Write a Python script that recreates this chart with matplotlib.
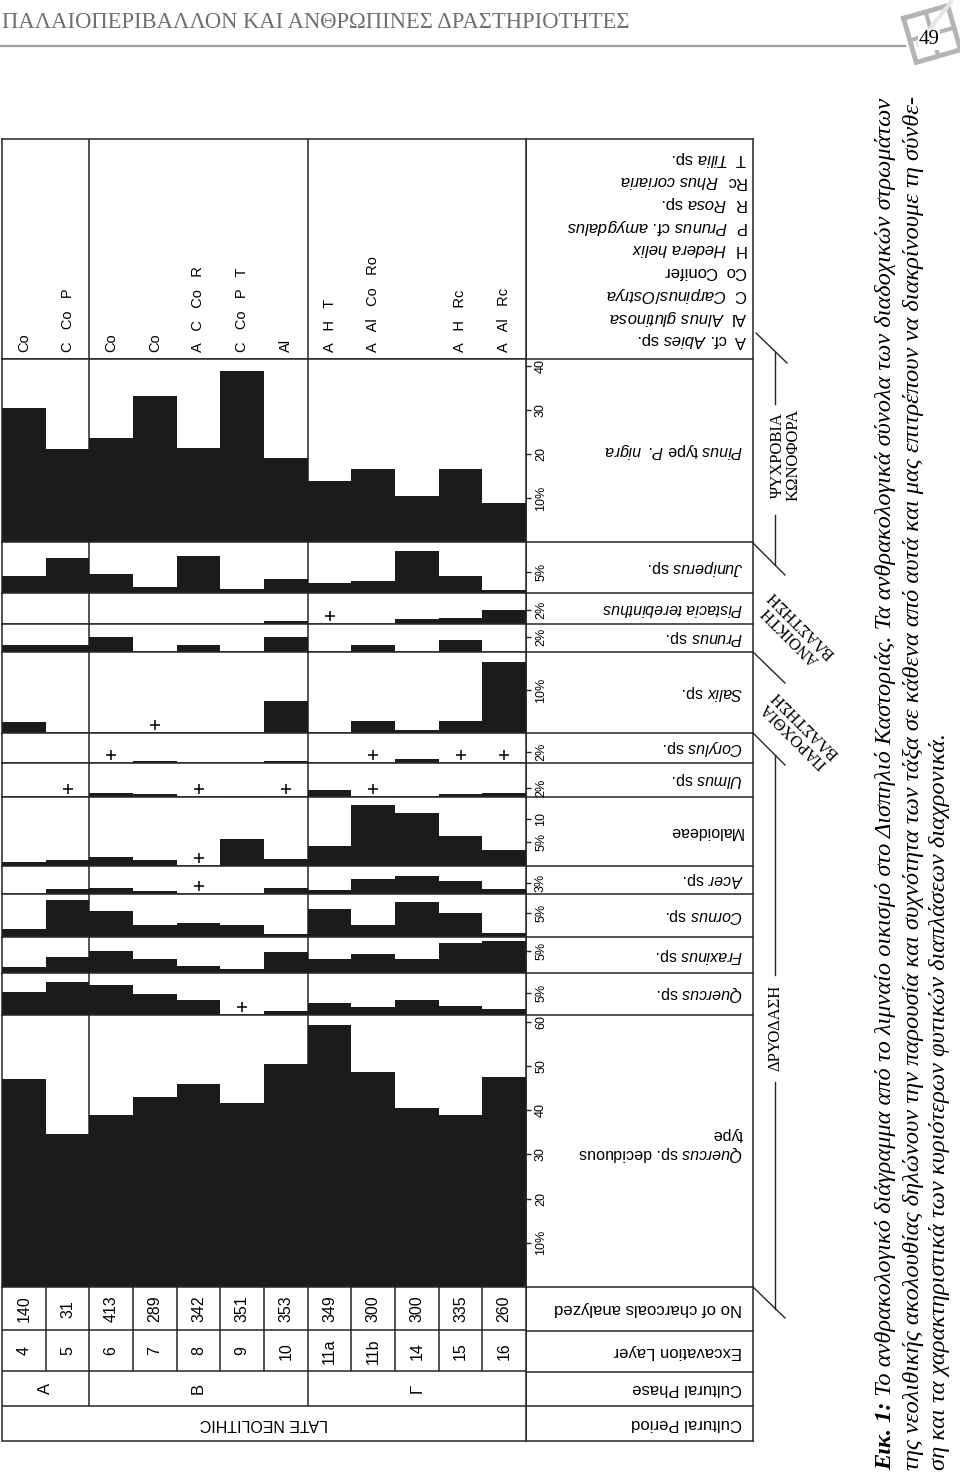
import numpy as np
import matplotlib
matplotlib.use('Agg')
import matplotlib.pyplot as plt
from matplotlib.transforms import ScaledTranslation

plt.rcParams['font.family'] = ['Liberation Sans', 'DejaVu Sans']
plt.rcParams['mathtext.fontset'] = 'custom'
plt.rcParams['mathtext.rm'] = 'Liberation Sans'
plt.rcParams['mathtext.it'] = 'Liberation Sans:italic'

# ---- data ---------------------------------------------------------------
layers = ['4', '5', '6', '7', '8', '9', '10', '11a', '11b', '14', '15', '16']
charcoals = [140, 31, 413, 289, 342, 351, 353, 349, 300, 300, 335, 260]
phases = ['A', 'B', 'Γ']
phase_sizes = [2, 5, 5]
period = 'LATE NEOLITHIC'
associated = ['Co', 'C   Co   P', 'Co', 'Co', 'A   C   Co   R', 'C   Co   P   T', 'Al',
              'A   H   T', 'A   Al   Co   Ro', '', 'A   H   Rc', 'A   Al   Rc']

abbr = ['A', 'Al', 'C', 'Co', 'H', 'P', 'R', 'Rc', 'T']
abbr_names = [r'cf. $\mathit{Abies}$ sp.', r'$\mathit{Alnus\ glutinosa}$',
              r'$\mathit{Carpinus/Ostrya}$', 'Conifer', r'$\mathit{Hedera\ helix}$',
              r'$\mathit{Prunus}$ cf. $\mathit{amygdalus}$', r'$\mathit{Rosa}$ sp.',
              r'$\mathit{Rhus\ coriaria}$', r'$\mathit{Tilia}$ sp.']

taxa = [r'$\mathit{Pinus}$ type $\mathit{P.\ nigra}$', r'$\mathit{Juniperus}$ sp.',
        r'$\mathit{Pistacia\ terebinthus}$', r'$\mathit{Prunus}$ sp.', r'$\mathit{Salix}$ sp.',
        r'$\mathit{Corylus}$ sp.', r'$\mathit{Ulmus}$ sp.', 'Maloideae', r'$\mathit{Acer}$ sp.',
        r'$\mathit{Cornus}$ sp.', r'$\mathit{Fraxinus}$ sp.', r'$\mathit{Quercus}$ sp.',
        '$\\mathit{Quercus}$ sp. deciduous\ntype']

# percentages per layer
pinus = [30.4, 21.1, 23.7, 33.2, 21.4, 38.9, 19.2, 13.9, 16.7, 10.5, 16.7, 8.9]
juniperus = [4.0, 8.3, 4.5, 1.4, 8.7, 1.0, 3.4, 2.4, 2.8, 10.1, 4.1, 0.8]
pistacia = [0, 0, 0, 0, 0, 0, 0.4, 0, 0, 0.7, 0.9, 2.0]
prunus = [0.9, 0.9, 2.0, 0, 0.9, 0, 2.0, 0, 0.9, 0, 1.6, 0]
salix = [2.6, 0, 0, 0, 0, 0, 7.4, 0, 2.8, 0.8, 2.8, 16.5]
corylus = [0, 0, 0, 0.4, 0, 0, 0.4, 0, 0, 0.7, 0, 0]
ulmus = [0, 0, 1.0, 0.6, 0, 0.3, 0, 1.6, 0, 0.3, 0.6, 1.0]
maloideae = [0.8, 1.2, 1.8, 1.2, 0, 5.8, 1.5, 4.3, 12.9, 11.2, 6.4, 3.4]
acer = [0, 1.35, 1.7, 0.9, 0, 0, 1.7, 1.1, 4.0, 5.0, 3.5, 1.35]
cornus = [1.7, 7.8, 5.5, 2.6, 2.9, 2.4, 0.6, 5.8, 2.4, 7.2, 4.9, 0.8]
fraxinus = [1.3, 3.5, 5.0, 3.1, 1.6, 0.9, 4.6, 3.1, 4.3, 3.1, 6.7, 7.2]
quercus = [5.4, 7.7, 6.8, 4.9, 3.4, 0, 1.0, 2.8, 1.8, 3.5, 2.1, 1.4]
quercus_dec = [47.0, 34.7, 38.9, 43.0, 45.9, 41.7, 50.5, 59.2, 48.7, 40.6, 38.9, 47.4]
series = [pinus, juniperus, pistacia, prunus, salix, corylus, ulmus, maloideae,
          acer, cornus, fraxinus, quercus, quercus_dec]

# taxa present only as traces (+)
traces = [[], [], ['11a'], [], ['7'], ['6', '11b', '15', '16'], ['5', '8', '10', '11b'],
          ['8'], ['8'], [], [], ['9'], []]

ticks = [[10, 20, 30, 40], [5], [2], [2], [10], [2], [2], [5, 10], [3], [5], [5], [5],
         [10, 20, 30, 40, 50, 60]]
tick_labels = [['10%', '20', '30', '40'], ['5%'], ['2%'], ['2%'], ['10%'], ['2%'], ['2%'],
               ['5%', '10'], ['3%'], ['5%'], ['5%'], ['5%'],
               ['10%', '20', '30', '40', '50', '60']]

groups = ['ΨΥΧΡΟΒΙΑ\nΚΩΝΟΦΟΡΑ', 'ΑΝΟΙΚΤΗ\nΒΛΑΣΤΗΣΗ', 'ΠΑΡΟΧΘΙΑ\nΒΛΑΣΤΗΣΗ', 'ΔΡΥΟΔΑΣΗ']
header = 'ΠΑΛΑΙΟΠΕΡΙΒΑΛΛΟΝ ΚΑΙ ΑΝΘΡΩΠΙΝΕΣ ΔΡΑΣΤΗΡΙΟΤΗΤΕΣ'
page_no = '49'
caption = [[('Εικ. 1:', True),
            (' Το ανθρακολογικό διάγραμμα από το λιμναίο οικισμό στο Δισπηλιό Καστοριάς. '
             'Τα ανθρακολογικά σύνολα των διαδοχικών στρωμάτων', False)],
           [('της νεολιθικής ακολουθίας δηλώνουν την παρουσία και συχνότητα των τάξα σε '
             'κάθενα από αυτά και μας επιτρέπουν να διακρίνουμε τη σύνθε-', False)],
           [('ση και τα χαρακτηριστικά των κυριότερων φυτικών διαπλάσεων διαχρονικά.', False)]]

# ---- layout (pixels) ----------------------------------------------------
W, H = 960, 1478
X0, X1, XR = 2, 526, 753
TOP = 139
band_edges = [359, 542, 593, 624, 652, 733, 763, 797, 866, 894, 937, 973, 1015, 1287]
px_per_pct = [4.4, 4.2, 7.0, 7.5, 4.3, 5.5, 4.5, 4.74, 3.7, 4.8, 4.46, 4.34, 4.42]
row_edges = [1287, 1330.5, 1371.5, 1406, 1440.5]
row_titles = ['No of charcoals analyzed', 'Excavation Layer', 'Cultural Phase', 'Cultural Period']
BAR = '#1b1b1b'
LINE = '#262626'
LW = 1.1

fig = plt.figure(figsize=(W / 100, H / 100), dpi=100)


def rect(x0, y0, x1, y1):
    return [x0 / W, 1 - y1 / H, (x1 - x0) / W, (y1 - y0) / H]


ov = fig.add_axes([0, 0, 1, 1])
ov.set_xlim(0, W)
ov.set_ylim(H, 0)
ov.axis('off')
rend = fig.canvas.get_renderer()

bounds = np.cumsum(phase_sizes)[:-1]
n = len(layers)
idx = {name: i for i, name in enumerate(layers)}

# ---- associated taxa row ------------------------------------------------
ax = fig.add_axes(rect(X0, TOP, X1, band_edges[0]))
ax.set_xlim(0, n)
ax.set_ylim(0, 1)
ax.set_xticks([])
ax.set_yticks([])
for s in ax.spines.values():
    s.set_color(LINE)
    s.set_linewidth(LW)
for b in bounds:
    ax.axvline(b, color=LINE, lw=LW)
for i, s in enumerate(associated):
    ax.text(i + 0.5, 0.03, s, rotation=90, ha='center', va='bottom', fontsize=10.5)

# ---- taxa bands ---------------------------------------------------------
for k, vals in enumerate(series):
    top, bot = band_edges[k], band_edges[k + 1]
    ax = fig.add_axes(rect(X0, top, X1, bot))
    ax.bar(np.arange(n), vals, width=1.0, align='edge', color=BAR, linewidth=0)
    ax.set_xlim(0, n)
    ax.set_ylim(0, (bot - top) / px_per_pct[k])
    ax.set_xticks([])
    ax.yaxis.tick_right()
    ax.set_yticks(ticks[k])
    ax.set_yticklabels(tick_labels[k], rotation=90, va='center', ha='left')
    ax.tick_params(axis='y', direction='out', length=3.5, width=1, pad=3,
                   labelsize=9, color=LINE)
    for s in ax.spines.values():
        s.set_color(LINE)
        s.set_linewidth(LW)
    for b in bounds:
        ax.axvline(b, color=LINE, lw=LW, zorder=0.5)
    if traces[k]:
        xs = np.array([idx[t] for t in traces[k]]) + 0.5
        off = ax.transData + ScaledTranslation(0, 0.08, fig.dpi_scale_trans)
        ax.plot(xs, np.zeros(len(xs)), ls='none', marker='+', ms=6.5, mew=1.1,
                color='black', transform=off, clip_on=False)

# ---- table --------------------------------------------------------------
ax = fig.add_axes(rect(X0, row_edges[0], X1, row_edges[-1]))
ax.set_xlim(0, n)
ax.set_ylim(row_edges[-1], row_edges[0])
ax.set_xticks([])
ax.set_yticks([])
for s in ax.spines.values():
    s.set_color(LINE)
    s.set_linewidth(LW)
for y in row_edges[1:-1]:
    ax.axhline(y, color=LINE, lw=LW)
ax.vlines(np.arange(1, n), row_edges[0], row_edges[2], color=LINE, lw=LW)
ax.vlines(bounds, row_edges[2], row_edges[3], color=LINE, lw=LW)
c0 = (row_edges[0] + row_edges[1]) / 2
c1 = (row_edges[1] + row_edges[2]) / 2
c2 = (row_edges[2] + row_edges[3]) / 2
c3 = (row_edges[3] + row_edges[4]) / 2
for i in range(n):
    ax.text(i + 0.5, c0, str(charcoals[i]), rotation=90, ha='center', va='center', fontsize=11.5)
    ax.text(i + 0.5, c1, layers[i], rotation=90, ha='center', va='center', fontsize=11.5)
starts = np.concatenate([[0], bounds])
for p, s0, sz in zip(phases, starts, phase_sizes):
    ax.text(s0 + sz / 2, c2, p, rotation=90, ha='center', va='center', fontsize=12)
ax.text(n / 2, c3, period, rotation=180, ha='center', va='center', fontsize=11.5)

# ---- right label box ----------------------------------------------------
all_h = [TOP] + band_edges + row_edges[1:]
for y in all_h:
    ov.plot([X1, XR], [y, y], color=LINE, lw=LW)
ov.plot([X1, X1], [TOP, row_edges[-1]], color=LINE, lw=LW)
ov.plot([XR, XR], [TOP, row_edges[-1]], color=LINE, lw=LW)

for j, (a, nm) in enumerate(zip(abbr, abbr_names)):
    y = 340 - j * 22.7
    t = ov.text(746, y, a, rotation=180, ha='right', va='center', fontsize=12)
    aw = t.get_window_extent(rend).width
    ov.text(746 - aw - 7, y, nm, rotation=180, ha='right', va='center', fontsize=12)

for k, lab in enumerate(taxa):
    yc = (band_edges[k] + band_edges[k + 1]) / 2
    if '\n' in lab:
        yc -= 6
    ov.text(743, yc, lab, rotation=180, ha='right', va='center', fontsize=11.5,
            multialignment='left', linespacing=1.15)

for r, t in enumerate(row_titles):
    yc = (row_edges[r] + row_edges[r + 1]) / 2
    ov.text(742, yc, t, rotation=180, ha='right', va='center', fontsize=12)

# ---- vegetation groups --------------------------------------------------
serif = 'Liberation Serif'
ov.text(786, 455, groups[0], rotation=90, ha='center', va='center', family=serif,
        fontsize=12, linespacing=1.0)
ov.text(796, 630, groups[1], rotation=135, ha='center', va='center', family=serif,
        fontsize=12, linespacing=1.0, multialignment='center')
ov.text(800, 730, groups[2], rotation=135, ha='center', va='center', family=serif,
        fontsize=12, linespacing=1.0, multialignment='center')
ov.text(775, 1028, groups[3], rotation=90, ha='center', va='center', family=serif, fontsize=12)
for (xa, ya, xb, yb) in [(756, 333, 787, 363), (753, 543, 785, 575), (753, 652, 785, 683),
                         (753, 733, 785, 765), (753, 1287, 785, 1318),
                         (775, 352, 775, 404), (775, 515, 775, 565),
                         (775, 755, 775, 975), (775, 1082, 775, 1309)]:
    ov.plot([xa, xb], [ya, yb], color=LINE, lw=1.0)

# ---- page header --------------------------------------------------------
ht = ov.text(2, 28, header, fontsize=16, family=serif, color='#6f6f6f', va='baseline')
wd = ht.get_window_extent(rend).width
ht.set_fontsize(16 * 630 / wd)
ov.plot([0, 905], [46, 46], color='#a0a0a0', lw=1.6)

c = np.array([932.0, 34.0])
a = np.deg2rad(-16)
R = np.array([[np.cos(a), -np.sin(a)], [np.sin(a), np.cos(a)]])
sq = np.array([[-23, -23], [23, -23], [23, 23], [-23, 23], [-23, -23]]) @ R.T + c
ov.plot(sq[:, 0], sq[:, 1], color='#b4b4b4', lw=3.5, solid_joinstyle='miter')
for seg in ([[-23, 0], [23, 0]], [[0, -23], [0, 23]]):
    p = np.array(seg) @ R.T + c
    ov.plot(p[:, 0], p[:, 1], color='#b4b4b4', lw=3)
ov.plot([951, 918], [2, 44], color='#e6e6e6', lw=3)
ov.text(929, 40, page_no, fontsize=15, family=serif, ha='center', va='center',
        bbox=dict(facecolor='white', edgecolor='none', pad=0.5))

# ---- caption ------------------------------------------------------------
CAP_Y0, CAP_Y1 = 1470, 96
cap_x = [886, 913, 940]


def caption_line(x, pieces, size):
    objs = []
    y = CAP_Y0
    for s, bold in pieces:
        t = ov.text(x, y, s, rotation=90, ha='center', va='bottom', fontsize=size,
                    family=serif, style='italic', weight='bold' if bold else 'normal')
        y -= t.get_window_extent(rend).height
        objs.append(t)
    return objs, CAP_Y0 - y


sizes = []
for line in caption[:2]:
    objs, L = caption_line(0, line, 10)
    for o in objs:
        o.remove()
    sizes.append(10 * (CAP_Y0 - CAP_Y1) / L)
sizes.append(sizes[1])
for x, line, sz in zip(cap_x, caption, sizes):
    caption_line(x, line, sz)

fig.savefig('out.png', dpi=100)
